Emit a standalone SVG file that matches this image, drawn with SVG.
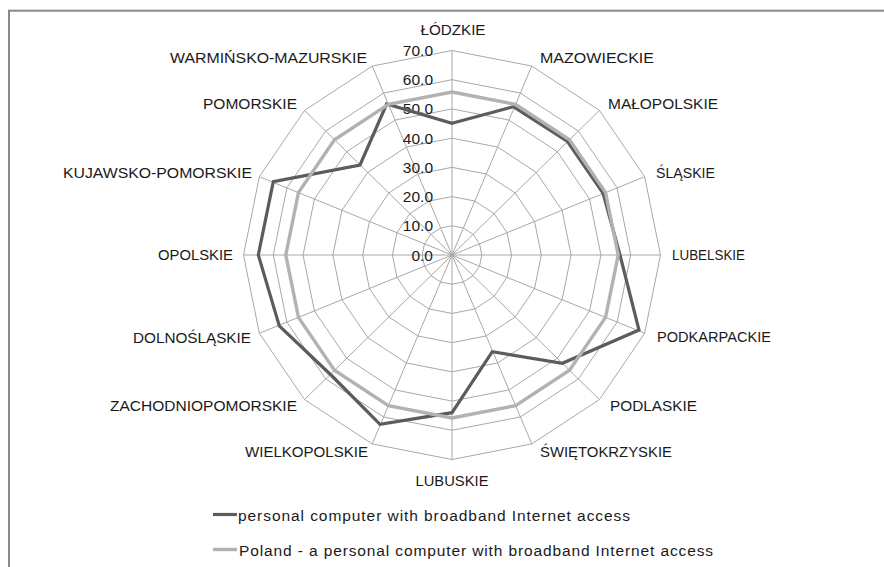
<svg xmlns="http://www.w3.org/2000/svg" xmlns:xlink="http://www.w3.org/1999/xlink" width="884" height="567" viewBox="0 0 884 567">
<style>
text{font-family:"Liberation Sans",Arial,sans-serif;font-size:15.5px;fill:#1a1a1a}
.grid{fill:none;stroke:#a8a8a8;stroke-width:1}
.dark{fill:none;stroke:#5c5c5c;stroke-width:3.2;stroke-linejoin:miter}
.light{fill:none;stroke:#b2b2b2;stroke-width:3.4;stroke-linejoin:miter}
.r{text-anchor:end}
.m{text-anchor:middle}
</style>
<defs>
<polygon id="ring" vector-effect="non-scaling-stroke" points="0,-1 0.38268,-0.92388 0.70711,-0.70711 0.92388,-0.38268 1,0 0.92388,0.38268 0.70711,0.70711 0.38268,0.92388 0,1 -0.38268,0.92388 -0.70711,0.70711 -0.92388,0.38268 -1,0 -0.92388,-0.38268 -0.70711,-0.70711 -0.38268,-0.92388"/>
</defs>
<rect width="884" height="567" fill="#ffffff"/>
<rect x="9" y="10.7" width="900" height="600" fill="none" stroke="#898989" stroke-width="2"/>
<g id="grid">
<use xlink:href="#ring" class="grid" transform="translate(452,255) scale(29.786,29.214)"/>
<use xlink:href="#ring" class="grid" transform="translate(452,255) scale(59.571,58.429)"/>
<use xlink:href="#ring" class="grid" transform="translate(452,255) scale(89.357,87.643)"/>
<use xlink:href="#ring" class="grid" transform="translate(452,255) scale(119.143,116.857)"/>
<use xlink:href="#ring" class="grid" transform="translate(452,255) scale(148.929,146.071)"/>
<use xlink:href="#ring" class="grid" transform="translate(452,255) scale(178.714,175.286)"/>
<use xlink:href="#ring" class="grid" transform="translate(452,255) scale(208.5,204.5)"/>
<path class="grid" vector-effect="non-scaling-stroke" transform="translate(452,255) scale(208.5,204.5)" d="M0,0L0,-1M0,0L0.38268,-0.92388M0,0L0.70711,-0.70711M0,0L0.92388,-0.38268M0,0L1,0M0,0L0.92388,0.38268M0,0L0.70711,0.70711M0,0L0.38268,0.92388M0,0L0,1M0,0L-0.38268,0.92388M0,0L-0.70711,0.70711M0,0L-0.92388,0.38268M0,0L-1,0M0,0L-0.92388,-0.38268M0,0L-0.70711,-0.70711M0,0L-0.38268,-0.92388"/>
</g>
<g id="values">
<text class="r" x="433" y="260.5">0.0</text>
<text class="r" x="433" y="231.3">10.0</text>
<text class="r" x="433" y="202.1">20.0</text>
<text class="r" x="433" y="172.9">30.0</text>
<text class="r" x="433" y="143.7">40.0</text>
<text class="r" x="433" y="114.4">50.0</text>
<text class="r" x="433" y="85.2">60.0</text>
<text class="r" x="433" y="56">70.0</text>
</g>
<g id="series">
<polygon class="dark" points="452,123.3 513.3,106.7 567.5,141.5 603,193 620,255 639,330 562.3,363.3 492.3,351.7 452,412.7 380,424.3 331.5,375.5 279.3,326 258.3,255 273.3,181.7 360,165 386.7,104"/>
<use xlink:href="#ring" class="light" transform="translate(452,255) scale(166.2,163)"/>
</g>
<g id="labels">
<text class="m" x="453" y="35" textLength="65" lengthAdjust="spacingAndGlyphs">ŁÓDZKIE</text>
<text x="540" y="63" textLength="114" lengthAdjust="spacingAndGlyphs">MAZOWIECKIE</text>
<text x="608" y="109" textLength="110" lengthAdjust="spacingAndGlyphs">MAŁOPOLSKIE</text>
<text x="656" y="178" textLength="59" lengthAdjust="spacingAndGlyphs">ŚLĄSKIE</text>
<text x="672" y="260" textLength="73" lengthAdjust="spacingAndGlyphs">LUBELSKIE</text>
<text x="657" y="342" textLength="114" lengthAdjust="spacingAndGlyphs">PODKARPACKIE</text>
<text x="610" y="411" textLength="87" lengthAdjust="spacingAndGlyphs">PODLASKIE</text>
<text x="540" y="457" textLength="132" lengthAdjust="spacingAndGlyphs">ŚWIĘTOKRZYSKIE</text>
<text class="m" x="452" y="486" textLength="73" lengthAdjust="spacingAndGlyphs">LUBUSKIE</text>
<text class="r" x="368" y="457" textLength="123" lengthAdjust="spacingAndGlyphs">WIELKOPOLSKIE</text>
<text class="r" x="297" y="411" textLength="187" lengthAdjust="spacingAndGlyphs">ZACHODNIOPOMORSKIE</text>
<text class="r" x="251" y="343" textLength="118" lengthAdjust="spacingAndGlyphs">DOLNOŚLĄSKIE</text>
<text class="r" x="233" y="260" textLength="75" lengthAdjust="spacingAndGlyphs">OPOLSKIE</text>
<text class="r" x="252" y="178" textLength="189" lengthAdjust="spacingAndGlyphs">KUJAWSKO-POMORSKIE</text>
<text class="r" x="297" y="109" textLength="94" lengthAdjust="spacingAndGlyphs">POMORSKIE</text>
<text class="r" x="367" y="63" textLength="197" lengthAdjust="spacingAndGlyphs">WARMIŃSKO-MAZURSKIE</text>
</g>
<g id="legend">
<line x1="213" y1="514.5" x2="237" y2="514.5" stroke="#5c5c5c" stroke-width="3.2"/>
<text x="238" y="521" textLength="392" lengthAdjust="spacing">personal computer with broadband Internet access</text>
<line x1="213" y1="549.5" x2="237" y2="549.5" stroke="#b2b2b2" stroke-width="3.4"/>
<text x="239" y="556" textLength="474" lengthAdjust="spacing">Poland - a personal computer with broadband Internet access</text>
</g>
</svg>
